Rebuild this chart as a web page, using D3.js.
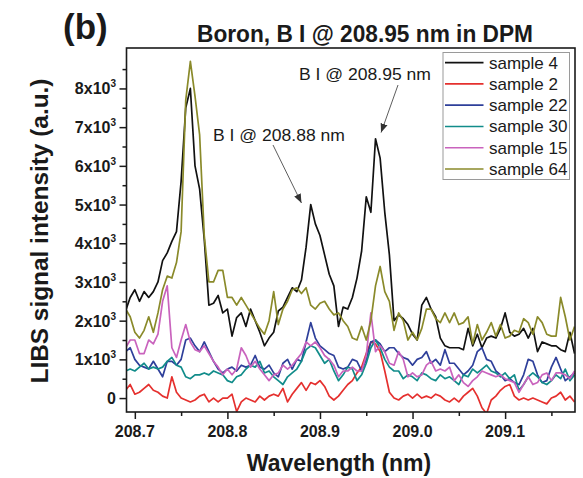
<!DOCTYPE html>
<html>
<head>
<meta charset="utf-8">
<script src="https://cdn.jsdelivr.net/npm/d3@7"></script>
<style>
  body { margin: 0; background: #fff; }
  svg { display: block; }
  text { font-family: Arial, "Liberation Sans", Helvetica, sans-serif; fill: #1a1a1a; }
</style>
</head>
<body>
<svg id="chart" width="583" height="478"></svg>
<script>
// Spectrometer wavelength grid (nm)
const wavelength = [
  208.690, 208.695, 208.700, 208.705, 208.710, 208.715, 208.720, 208.725, 208.730, 208.735,
  208.740, 208.745, 208.750, 208.755, 208.760, 208.765, 208.770, 208.775, 208.780, 208.785,
  208.790, 208.795, 208.800, 208.805, 208.810, 208.815, 208.820, 208.825, 208.830, 208.835,
  208.840, 208.845, 208.850, 208.855, 208.860, 208.865, 208.870, 208.875, 208.880, 208.885,
  208.890, 208.895, 208.900, 208.905, 208.910, 208.915, 208.920, 208.925, 208.930, 208.935,
  208.940, 208.945, 208.950, 208.955, 208.960, 208.965, 208.970, 208.975, 208.980, 208.985,
  208.990, 208.995, 209.000, 209.005, 209.010, 209.015, 209.020, 209.025, 209.030, 209.035,
  209.040, 209.045, 209.050, 209.055, 209.060, 209.065, 209.070, 209.075, 209.080, 209.085,
  209.090, 209.095, 209.100, 209.105, 209.110, 209.115, 209.120, 209.125, 209.130, 209.135,
  209.140, 209.145, 209.150, 209.155, 209.160, 209.165, 209.170, 209.175
];

// LIBS signal intensity (a.u.) for each sample
const sample4 = [
  2250, 2600, 2800, 2500, 2750, 2600, 2750, 3000, 3550, 3750,
  4050, 4300, 5600, 7500, 8000, 6000, 5400, 4100, 2400, 2450,
  2650, 2200, 2300, 1600, 2080, 2200, 1850, 2300, 2000, 1700,
  1350, 1550, 1700, 2250, 2350, 2600, 2850, 2750, 3050, 3900,
  5000, 4500, 4200, 3700, 3200, 2900, 1850, 2350, 2300, 2600,
  3100, 3800, 5200, 4800, 6700, 6200, 4800, 3700, 2000, 2150,
  2050, 1900, 1650, 1500, 2400, 2600, 2300, 2100, 1550, 1350,
  1300, 1300, 1300, 1250, 1800, 1350, 1650, 1300, 1550, 1600,
  1550, 1800, 2200, 1700, 1600, 1650, 1800, 1550, 1800, 1200,
  1450, 1400, 1350, 1350, 1250, 1200, 1700, 1150
];
const sample2 = [
  200, 350, 100, 150, 250, 350, 200, 150, 50, 0,
  550, 150, 0, -50, -100, -50, 50, 100, -100, 0,
  -100, 0, 0, 100, -350, -100, 0, -50, -100, 50,
  -50, 50, 100, 50, 250, -100, 100, 250, 400, 200,
  400, 350, 450, 300, 50, -50, 50, 200, 350, 450,
  650, 800, 1150, 1450, 1400, 1200, 700, 150, 0, -50,
  50, 100, 0, 100, 0, 50, 0, 100, 50, -50,
  -100, 0, -100, 50, 150, 250, 50, -250, -400, -50,
  50, 200, 300, 350, 50, -50, 0, -50, 0, -50,
  -100, -150, 0, 50, 150, -50, 50, -100
];
const sample22 = [
  1200, 1300, 1000, 850, 800, 750, 950, 750, 550, 950,
  950, 850, 1000, 1500, 1550, 1350, 1200, 1450, 1200, 950,
  750, 650, 750, 800, 700, 850, 800, 850, 1100, 800,
  750, 850, 650, 550, 900, 1000, 750, 1000, 950, 1450,
  1950, 1550, 1350, 1250, 1150, 1100, 800, 750, 800, 1000,
  950, 700, 1000, 1450, 1500, 1400, 1200, 1300, 1300, 1150,
  1050, 1000, 850, 1000, 1050, 1200, 900, 1000, 850, 1250,
  900, 900, 750, 600, 700, 850, 1200, 1300, 1000, 950,
  700, 600, 450, 500, 400, 350, 600, 1000, 950, 600,
  400, 450, 800, 1050, 750, 450, 550, 650
];
const sample30 = [
  700, 750, 700, 800, 900, 750, 800, 750, 800, 950,
  1050, 850, 800, 550, 500, 600, 600, 650, 600, 700,
  650, 600, 450, 400, 550, 600, 750, 850, 800, 950,
  650, 700, 550, 450, 350, 550, 650, 750, 950, 1250,
  1350, 1300, 1100, 900, 1000, 700, 450, 600, 800, 750,
  450, 600, 900, 1300, 1500, 1300, 1000, 800, 700, 700,
  500, 600, 550, 450, 650, 600, 500, 450, 600, 500,
  550, 450, 350, 600, 550, 750, 650, 750, 850, 700,
  650, 550, 650, 500, 600, 200, 350, 550, 650, 550,
  400, 350, 450, 600, 500, 750, 450, 600
];
const sample15 = [
  1300, 1500, 1500, 1150, 1150, 1500, 1400, 1650, 2500, 2900,
  1300, 1050, 1500, 1900, 1450, 1250, 1200, 1350, 1150, 950,
  800, 600, 750, 600, 750, 1300, 1100, 800, 950, 750,
  600, 450, 600, 650, 850, 750, 850, 1000, 1150, 1450,
  1350, 1450, 1300, 1100, 1000, 850, 550, 700, 700, 800,
  700, 700, 1100, 2200, 1200, 1350, 1200, 900, 850, 1200,
  1000, 550, 650, 550, 600, 850, 950, 700, 750, 700,
  800, 450, 600, 400, 300, 450, 550, 700, 650, 600,
  550, 600, 500, 450, 400, 150, 350, 550, 350, 400,
  600, 650, 450, 650, 650, 600, 500, 700
];
const sample64 = [
  2300, 2100, 1700, 1550, 1750, 2100, 1700, 2200, 2800, 3150,
  3100, 3500, 4300, 7700, 8700, 7800, 6800, 4200, 3000, 3000,
  3300, 3300, 2600, 2600, 2400, 2600, 2400, 2200, 2000, 1800,
  1650, 2000, 2750, 1900, 2300, 2500, 2800, 2850, 2700, 2850,
  2400, 2300, 2450, 2500, 2300, 2150, 2200, 2000, 1850, 1550,
  1500, 1850, 1500, 2000, 2900, 3400, 2750, 2500, 1750, 2200,
  2000, 1500, 1700, 1500, 1800, 2300, 2300, 2050, 1950, 2200,
  1950, 2200, 1900, 1950, 2100, 1400, 1900, 1500, 1700, 1950,
  1600, 1900, 1550, 1600, 1750, 1700, 2050, 1950, 1650, 2100,
  1950, 1650, 1600, 1600, 2600, 2100, 1500, 1850
];

const seriesNames  = ["sample 4", "sample 2", "sample 22", "sample 30", "sample 15", "sample 64"];
const seriesValues = [sample4, sample2, sample22, sample30, sample15, sample64];
const seriesColors = ["#111111", "#e5302e", "#2e3f9a", "#118c8a", "#c963bd", "#8a8a2a"];

const xTicks      = [208.7, 208.8, 208.9, 209.0, 209.1];
const xTickLabels = ["208.7", "208.8", "208.9", "209.0", "209.1"];
const xMinorTicks = [208.75, 208.85, 208.95, 209.05, 209.15];
const yTicks      = [0, 1000, 2000, 3000, 4000, 5000, 6000, 7000, 8000];
const yTickLabels = ["0", "1x10", "2x10", "3x10", "4x10", "5x10", "6x10", "7x10", "8x10"];
const yTickExp    = ["", "3", "3", "3", "3", "3", "3", "3", "3"];
const yMinorTicks = [500, 1500, 2500, 3500, 4500, 5500, 6500, 7500, 8500];

// Emission-line labels: text anchor, arrow tail (px) and arrow tip (data units)
const annotations = [
  { text: "B I @ 208.88 nm", tx: 213, ty: 141, x0: 273, y0: 145, tipWl: 208.880, tipValue: 5040 },
  { text: "B I @ 208.95 nm", tx: 299, ty: 80,  x0: 398, y0: 85,  tipWl: 208.966, tipValue: 6860 }
];

const svg = d3.select("#chart");
const plot = { left: 126.5, right: 575, top: 48, bottom: 412 };

const x = d3.scaleLinear().domain([208.691, 209.1755]).range([plot.left, plot.right]);
const y = d3.scaleLinear().domain([-360, 9045]).range([plot.bottom, plot.top]);

const defs = svg.append("defs");
defs.append("clipPath").attr("id", "plotClip")
  .append("rect")
  .attr("x", plot.left).attr("y", plot.top)
  .attr("width", plot.right - plot.left).attr("height", plot.bottom - plot.top);

defs.append("marker")
  .attr("id", "arrowHead")
  .attr("viewBox", "0 0 10 10")
  .attr("refX", 10).attr("refY", 5)
  .attr("markerWidth", 9).attr("markerHeight", 9)
  .attr("markerUnits", "userSpaceOnUse")
  .attr("orient", "auto")
  .append("path").attr("d", "M0,1 L10,5 L0,9 Z").attr("fill", "#333");

// Spectra
const line = d3.line()
  .x((d, i) => x(wavelength[i]))
  .y(d => y(d));

svg.append("g").attr("clip-path", "url(#plotClip)")
  .selectAll("path")
  .data(seriesValues)
  .join("path")
  .attr("d", d => line(d))
  .attr("fill", "none")
  .attr("stroke", (d, i) => seriesColors[i])
  .attr("stroke-width", 1.7)
  .attr("stroke-linejoin", "round");

// Frame
svg.append("rect")
  .attr("x", plot.left).attr("y", plot.top)
  .attr("width", plot.right - plot.left).attr("height", plot.bottom - plot.top)
  .attr("fill", "none").attr("stroke", "#1a1a1a").attr("stroke-width", 1.6);

// Axes ticks
function styleAxis(g) {
  g.select(".domain").remove();
  g.selectAll(".tick line").attr("stroke", "#1a1a1a").attr("stroke-width", 1.5);
  g.selectAll(".tick text").remove();
}

svg.append("g").attr("transform", `translate(${plot.left},0)`)
  .call(d3.axisLeft(y).tickValues(yTicks).tickSize(7).tickFormat(""))
  .call(styleAxis);
svg.append("g").attr("transform", `translate(${plot.left},0)`)
  .call(d3.axisLeft(y).tickValues(yMinorTicks).tickSize(4).tickFormat(""))
  .call(styleAxis);
svg.append("g").attr("transform", `translate(0,${plot.bottom})`)
  .call(d3.axisBottom(x).tickValues(xTicks).tickSize(7).tickFormat(""))
  .call(styleAxis);
svg.append("g").attr("transform", `translate(0,${plot.bottom})`)
  .call(d3.axisBottom(x).tickValues(xMinorTicks).tickSize(4).tickFormat(""))
  .call(styleAxis);

// Y tick labels with power-of-ten superscript
const yLab = svg.append("g").selectAll("text")
  .data(yTicks)
  .join("text")
  .attr("x", 116)
  .attr("y", d => y(d) + 6)
  .attr("text-anchor", "end")
  .attr("font-size", 16)
  .attr("font-weight", "bold");
yLab.append("tspan").text((d, i) => yTickLabels[i]);
yLab.append("tspan")
  .attr("font-size", 10)
  .attr("dy", -7)
  .text((d, i) => yTickExp[i]);

// X tick labels
svg.append("g").selectAll("text")
  .data(xTicks)
  .join("text")
  .attr("x", d => x(d))
  .attr("y", 437)
  .attr("text-anchor", "middle")
  .attr("font-size", 16)
  .attr("font-weight", "bold")
  .text((d, i) => xTickLabels[i]);

// Axis titles
svg.append("text")
  .attr("x", 339).attr("y", 471)
  .attr("text-anchor", "middle")
  .attr("font-size", 23).attr("font-weight", "bold")
  .text("Wavelength (nm)");

svg.append("text")
  .attr("transform", "translate(48,231) rotate(-90)")
  .attr("text-anchor", "middle")
  .attr("font-size", 24).attr("font-weight", "bold")
  .attr("textLength", 305).attr("lengthAdjust", "spacingAndGlyphs")
  .text("LIBS signal intensity (a.u.)");

// Panel letter and title
svg.append("text")
  .attr("x", 63).attr("y", 39)
  .attr("font-size", 35).attr("font-weight", "bold")
  .text("(b)");

svg.append("text")
  .attr("x", 365).attr("y", 42)
  .attr("text-anchor", "middle")
  .attr("font-size", 23).attr("font-weight", "bold")
  .attr("textLength", 336).attr("lengthAdjust", "spacingAndGlyphs")
  .text("Boron, B I @ 208.95 nm in DPM");

// Line annotations with arrows
const ann = svg.append("g");
ann.selectAll("text")
  .data(annotations)
  .join("text")
  .attr("x", d => d.tx).attr("y", d => d.ty)
  .attr("font-size", 17)
  .attr("textLength", 132).attr("lengthAdjust", "spacingAndGlyphs")
  .text(d => d.text);
ann.selectAll("line")
  .data(annotations)
  .join("line")
  .attr("x1", d => d.x0).attr("y1", d => d.y0)
  .attr("x2", d => x(d.tipWl)).attr("y2", d => y(d.tipValue))
  .attr("stroke", "#333").attr("stroke-width", 0.8)
  .attr("marker-end", "url(#arrowHead)");

// Legend
const legend = svg.append("g");
legend.append("rect")
  .attr("x", 443).attr("y", 52.5)
  .attr("width", 126.5).attr("height", 127)
  .attr("fill", "#fff").attr("stroke", "#9a9a9a").attr("stroke-width", 1);
const item = legend.selectAll("g.item")
  .data(seriesNames)
  .join("g").attr("class", "item")
  .attr("transform", (d, i) => `translate(0,${62.7 + i * 21.26})`);
item.append("line")
  .attr("x1", 445).attr("x2", 483.5)
  .attr("y1", 0).attr("y2", 0)
  .attr("stroke", (d, i) => seriesColors[i])
  .attr("stroke-width", 1.7);
item.append("text")
  .attr("x", 489).attr("y", 6)
  .attr("font-size", 17)
  .text(d => d);
</script>
</body>
</html>
